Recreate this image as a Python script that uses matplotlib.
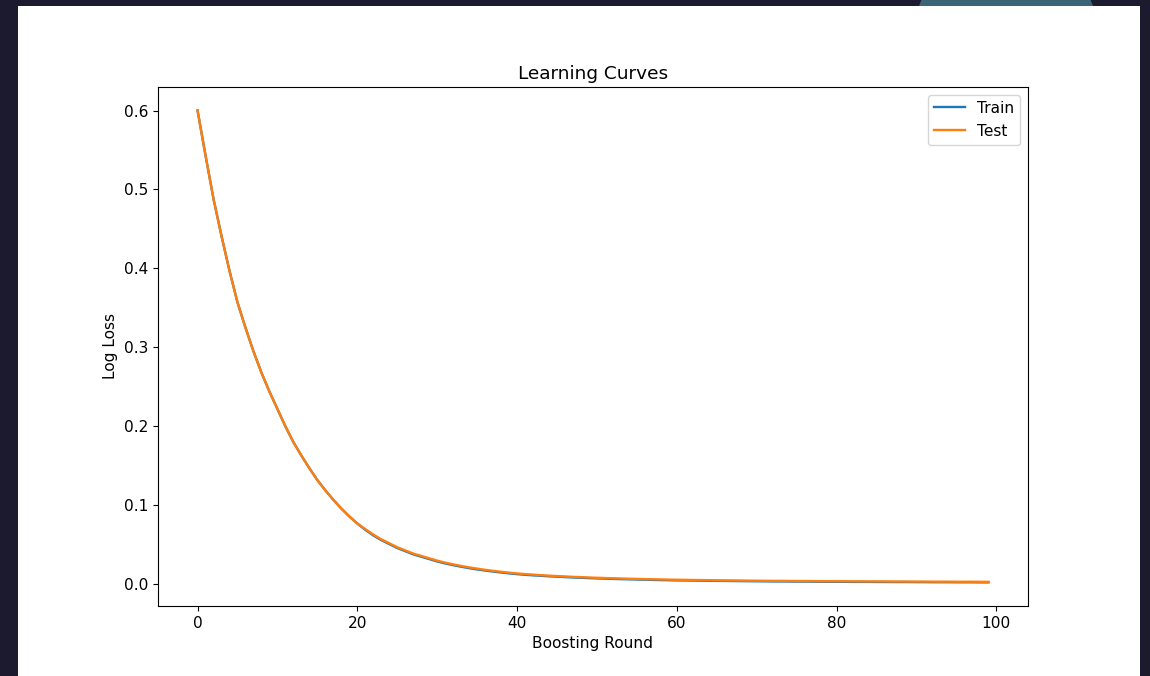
import matplotlib
matplotlib.use("Agg")
import matplotlib.pyplot as plt
from matplotlib.patches import Rectangle, Ellipse
import numpy as np

# log loss per boosting round
train_loss = [
    0.600, 0.543, 0.488, 0.441, 0.397, 0.357,
    0.325, 0.295, 0.268, 0.244, 0.222,
    0.200, 0.180, 0.163, 0.147, 0.132,
    0.119, 0.107, 0.096, 0.086, 0.077,
    0.069, 0.062, 0.056, 0.051, 0.046,
    0.042, 0.038, 0.035, 0.032, 0.029,
    0.0265, 0.0243, 0.0223, 0.0205, 0.0189,
    0.0175, 0.0162, 0.0150, 0.0139, 0.0129,
    0.0121, 0.0114, 0.0108, 0.0102, 0.0097, 0.0092, 0.0087, 0.0083, 0.0079, 0.0075,
    0.0072, 0.0069, 0.0066, 0.0064, 0.0061, 0.0059, 0.0056, 0.0054, 0.0052, 0.0050,
    0.0049, 0.0048, 0.0046, 0.0045, 0.0044, 0.0043, 0.0042, 0.0041, 0.0040, 0.0039,
    0.0038, 0.0037, 0.0037, 0.0036, 0.0035, 0.0035, 0.0034, 0.0033, 0.0033, 0.0032,
    0.0032, 0.0031, 0.0031, 0.0031, 0.0030, 0.0030, 0.0029, 0.0029, 0.0029, 0.0028,
    0.0028, 0.0027, 0.0027, 0.0027, 0.0026, 0.0026, 0.0026, 0.0025, 0.0025,
]
test_loss = [
    0.600, 0.543, 0.488, 0.441, 0.397, 0.357,
    0.325, 0.295, 0.268, 0.244, 0.222,
    0.200, 0.180, 0.163, 0.147, 0.132,
    0.119, 0.107, 0.096, 0.086, 0.077,
    0.070, 0.063, 0.057, 0.052, 0.047,
    0.043, 0.039, 0.036, 0.033, 0.030,
    0.0275, 0.0253, 0.0233, 0.0215, 0.0199,
    0.0184, 0.0171, 0.0159, 0.0148, 0.0138,
    0.0130, 0.0123, 0.0116, 0.0110, 0.0105, 0.0100, 0.0095, 0.0091, 0.0087, 0.0083,
    0.0080, 0.0077, 0.0074, 0.0071, 0.0069, 0.0066, 0.0064, 0.0062, 0.0060, 0.0058,
    0.0057, 0.0055, 0.0054, 0.0053, 0.0051, 0.0050, 0.0049, 0.0048, 0.0047, 0.0046,
    0.0045, 0.0044, 0.0044, 0.0043, 0.0042, 0.0042, 0.0041, 0.0040, 0.0040, 0.0039,
    0.0039, 0.0038, 0.0038, 0.0037, 0.0037, 0.0037, 0.0036, 0.0036, 0.0035, 0.0035,
    0.0035, 0.0034, 0.0034, 0.0034, 0.0033, 0.0033, 0.0033, 0.0032, 0.0032,
]
rounds = np.arange(len(train_loss))

plt.rcParams["font.size"] = 11.1

fig = plt.figure(figsize=(11.5, 6.76), dpi=100, facecolor="#1c1a2e")

# screenshot frame: blob peeking out at the top, white panel over it
fig.patches.append(Ellipse((0.8748, 0.9430), 0.1617, 0.2751, transform=fig.transFigure,
                           facecolor="#3b6576", edgecolor="none", zorder=0))
fig.patches.append(Rectangle((0.01565, 0.0), 0.97565, 0.9911, transform=fig.transFigure,
                             facecolor="white", edgecolor="none", zorder=1))

ax = fig.add_axes([0.1374, 0.1036, 0.7565, 0.7678])
ax.set_zorder(2)
ax.plot(rounds, train_loss, label="Train", lw=1.7)
ax.plot(rounds, test_loss, label="Test", lw=1.7)
ax.set_title("Learning Curves")
ax.set_xlabel("Boosting Round")
ax.set_ylabel("Log Loss")
ax.legend()

fig.savefig("out.png", dpi=100, facecolor=fig.get_facecolor())
